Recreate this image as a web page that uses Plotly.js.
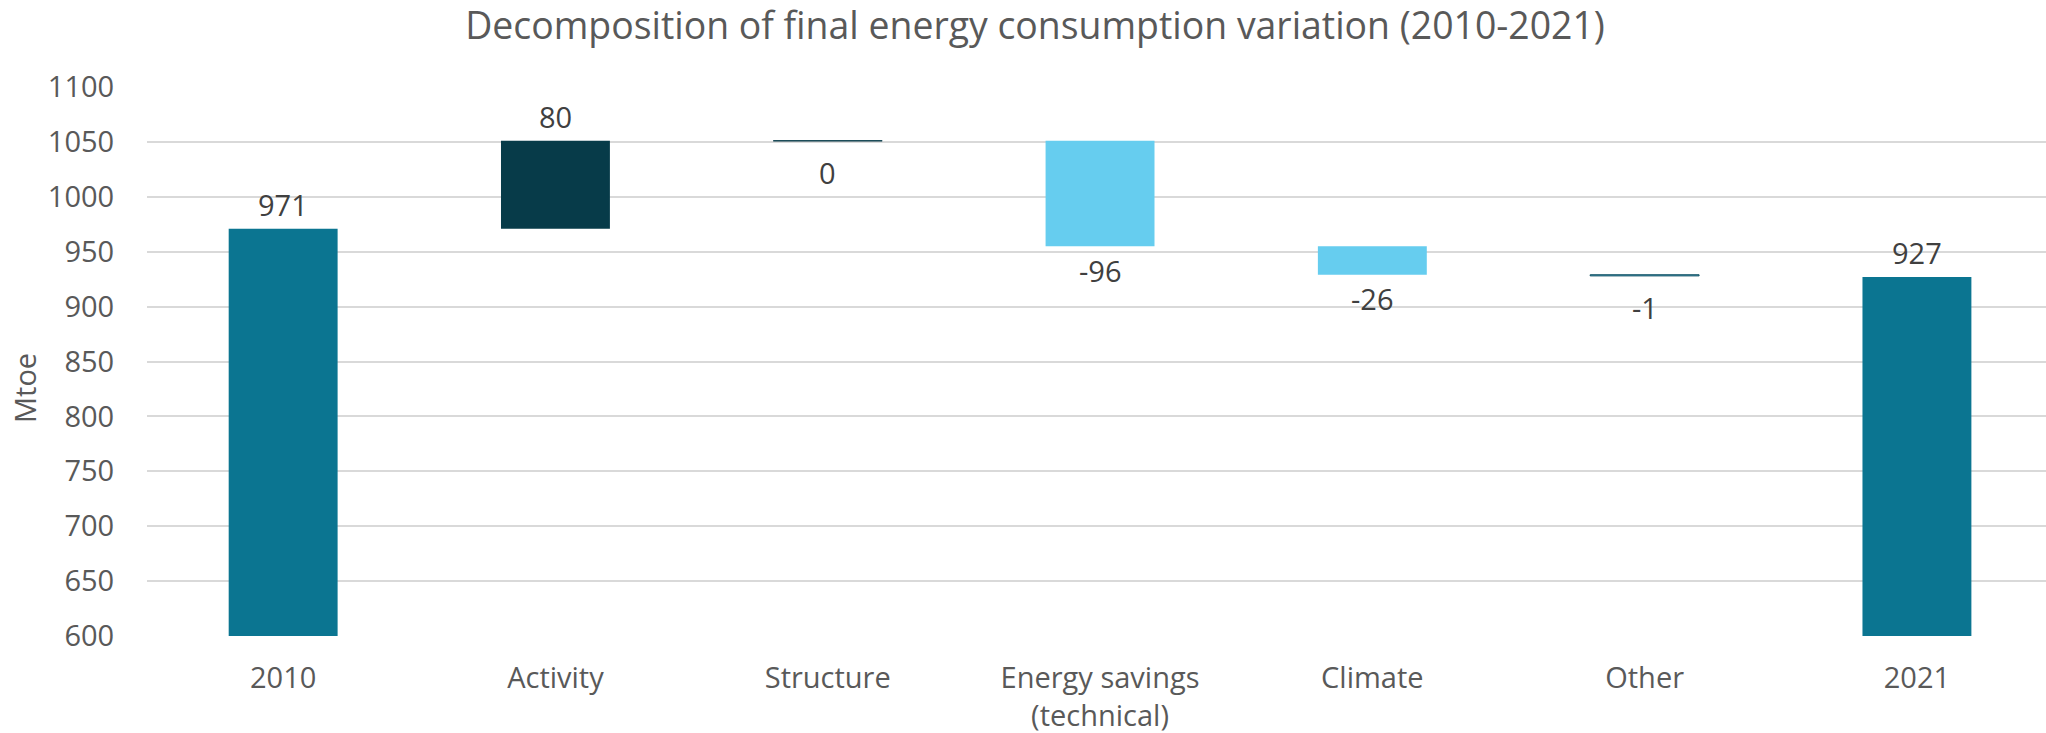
<!DOCTYPE html>
<html>
<head>
<meta charset="utf-8">
<script src="https://cdn.plot.ly/plotly-3.0.1.min.js"></script>
<style>
  html, body { margin: 0; padding: 0; background: #ffffff; }
  #chart { width: 2046px; height: 733px; }
</style>
</head>
<body>
<div id="chart"></div>
<script>
// ---- Data (Mtoe) ----
const categories = ["2010", "Activity", "Structure", "Energy savings<br>(technical)", "Climate", "Other", "2021"];
const values = [971, 80, 0, -96, -26, -1, 927];
const measures = ["absolute", "relative", "relative", "relative", "relative", "relative", "absolute"];
const yTickValues = [600, 650, 700, 750, 800, 850, 900, 950, 1000, 1050, 1100];

// ---- Colours ----
const COL_TOTAL = "#0B7591";
const COL_UP = "#073B49";
const COL_DOWN = "#66CDEF";
const COL_THIN = "#0A4A5C";

// Build bar bases from the running total
const bases = [], heights = [], colors = [], lineColors = [], lineWidths = [];
let running = 0;
values.forEach((v, i) => {
  if (measures[i] === "absolute") {
    bases.push(0); heights.push(v); running = v;
    colors.push(COL_TOTAL);
  } else {
    bases.push(running); heights.push(v); running += v;
    colors.push(v > 0 ? COL_UP : COL_DOWN);
  }
  const thin = Math.abs(v) < 2;
  lineWidths.push(thin ? 1 : 0);
  lineColors.push(thin ? (v === 0 ? COL_UP : COL_THIN) : colors[i]);
});

const trace = {
  type: "bar",
  x: categories,
  y: heights,
  base: bases,
  width: 0.4,
  marker: { color: colors, line: { color: lineColors, width: lineWidths } },
  hoverinfo: "skip",
  showlegend: false
};

// Value labels via annotations anchored to bar ends (x given as category index)
const annotations = values.map((v, i) => {
  const top = Math.max(bases[i], bases[i] + heights[i]);
  const bottom = Math.min(bases[i], bases[i] + heights[i]);
  const above = measures[i] === "absolute" || v > 0;
  const thin = Math.abs(v) < 2;
  return {
    x: i,
    y: above ? top : bottom,
    xref: "x", yref: "y",
    text: String(v),
    showarrow: false,
    yanchor: "middle",
    yshift: above ? 24 : (thin ? -32 : -24),
    font: { family: "Open Sans", size: 29, color: "#404040" }
  };
});

// Y axis title placed as a rotated annotation
annotations.push({
  text: "Mtoe",
  xref: "paper", yref: "paper",
  x: (24 - 147) / 1899, y: (636 - 388) / 549,
  xanchor: "center", yanchor: "middle",
  textangle: -90,
  showarrow: false,
  font: { family: "Open Sans", size: 29, color: "#595959" }
});

const layout = {
  width: 2046,
  height: 733,
  paper_bgcolor: "#ffffff",
  plot_bgcolor: "#ffffff",
  margin: { l: 147, r: 0, t: 87, b: 97 },
  font: { family: "Open Sans", color: "#595959" },
  title: {
    text: "Decomposition of final energy consumption variation (2010-2021)",
    font: { family: "Open Sans", size: 37.4, color: "#595959" },
    x: 0.5 + 12 / 2046, xanchor: "center",
    y: 1 - 26 / 733, yanchor: "middle", yref: "container"
  },
  xaxis: {
    type: "category",
    range: [-0.5, 6.474],
    showgrid: false,
    zeroline: false,
    showline: false,
    ticks: "outside",
    ticklen: 16,
    tickcolor: "rgba(0,0,0,0)",
    tickfont: { family: "Open Sans", size: 29, color: "#595959" },
    fixedrange: true
  },
  yaxis: {
    range: [600, 1100],
    tickvals: yTickValues,
    ticktext: yTickValues.map(String),
    showgrid: true,
    gridcolor: "#D9D9D9",
    gridwidth: 2,
    zeroline: false,
    showline: false,
    ticks: "outside",
    ticklen: 26,
    tickcolor: "rgba(0,0,0,0)",
    tickfont: { family: "Open Sans", size: 29, color: "#595959" },
    fixedrange: true
  },
  bargap: 0.6,
  annotations: annotations
};

Plotly.newPlot("chart", [trace], layout, { displayModeBar: false, staticPlot: true });
</script>
</body>
</html>
